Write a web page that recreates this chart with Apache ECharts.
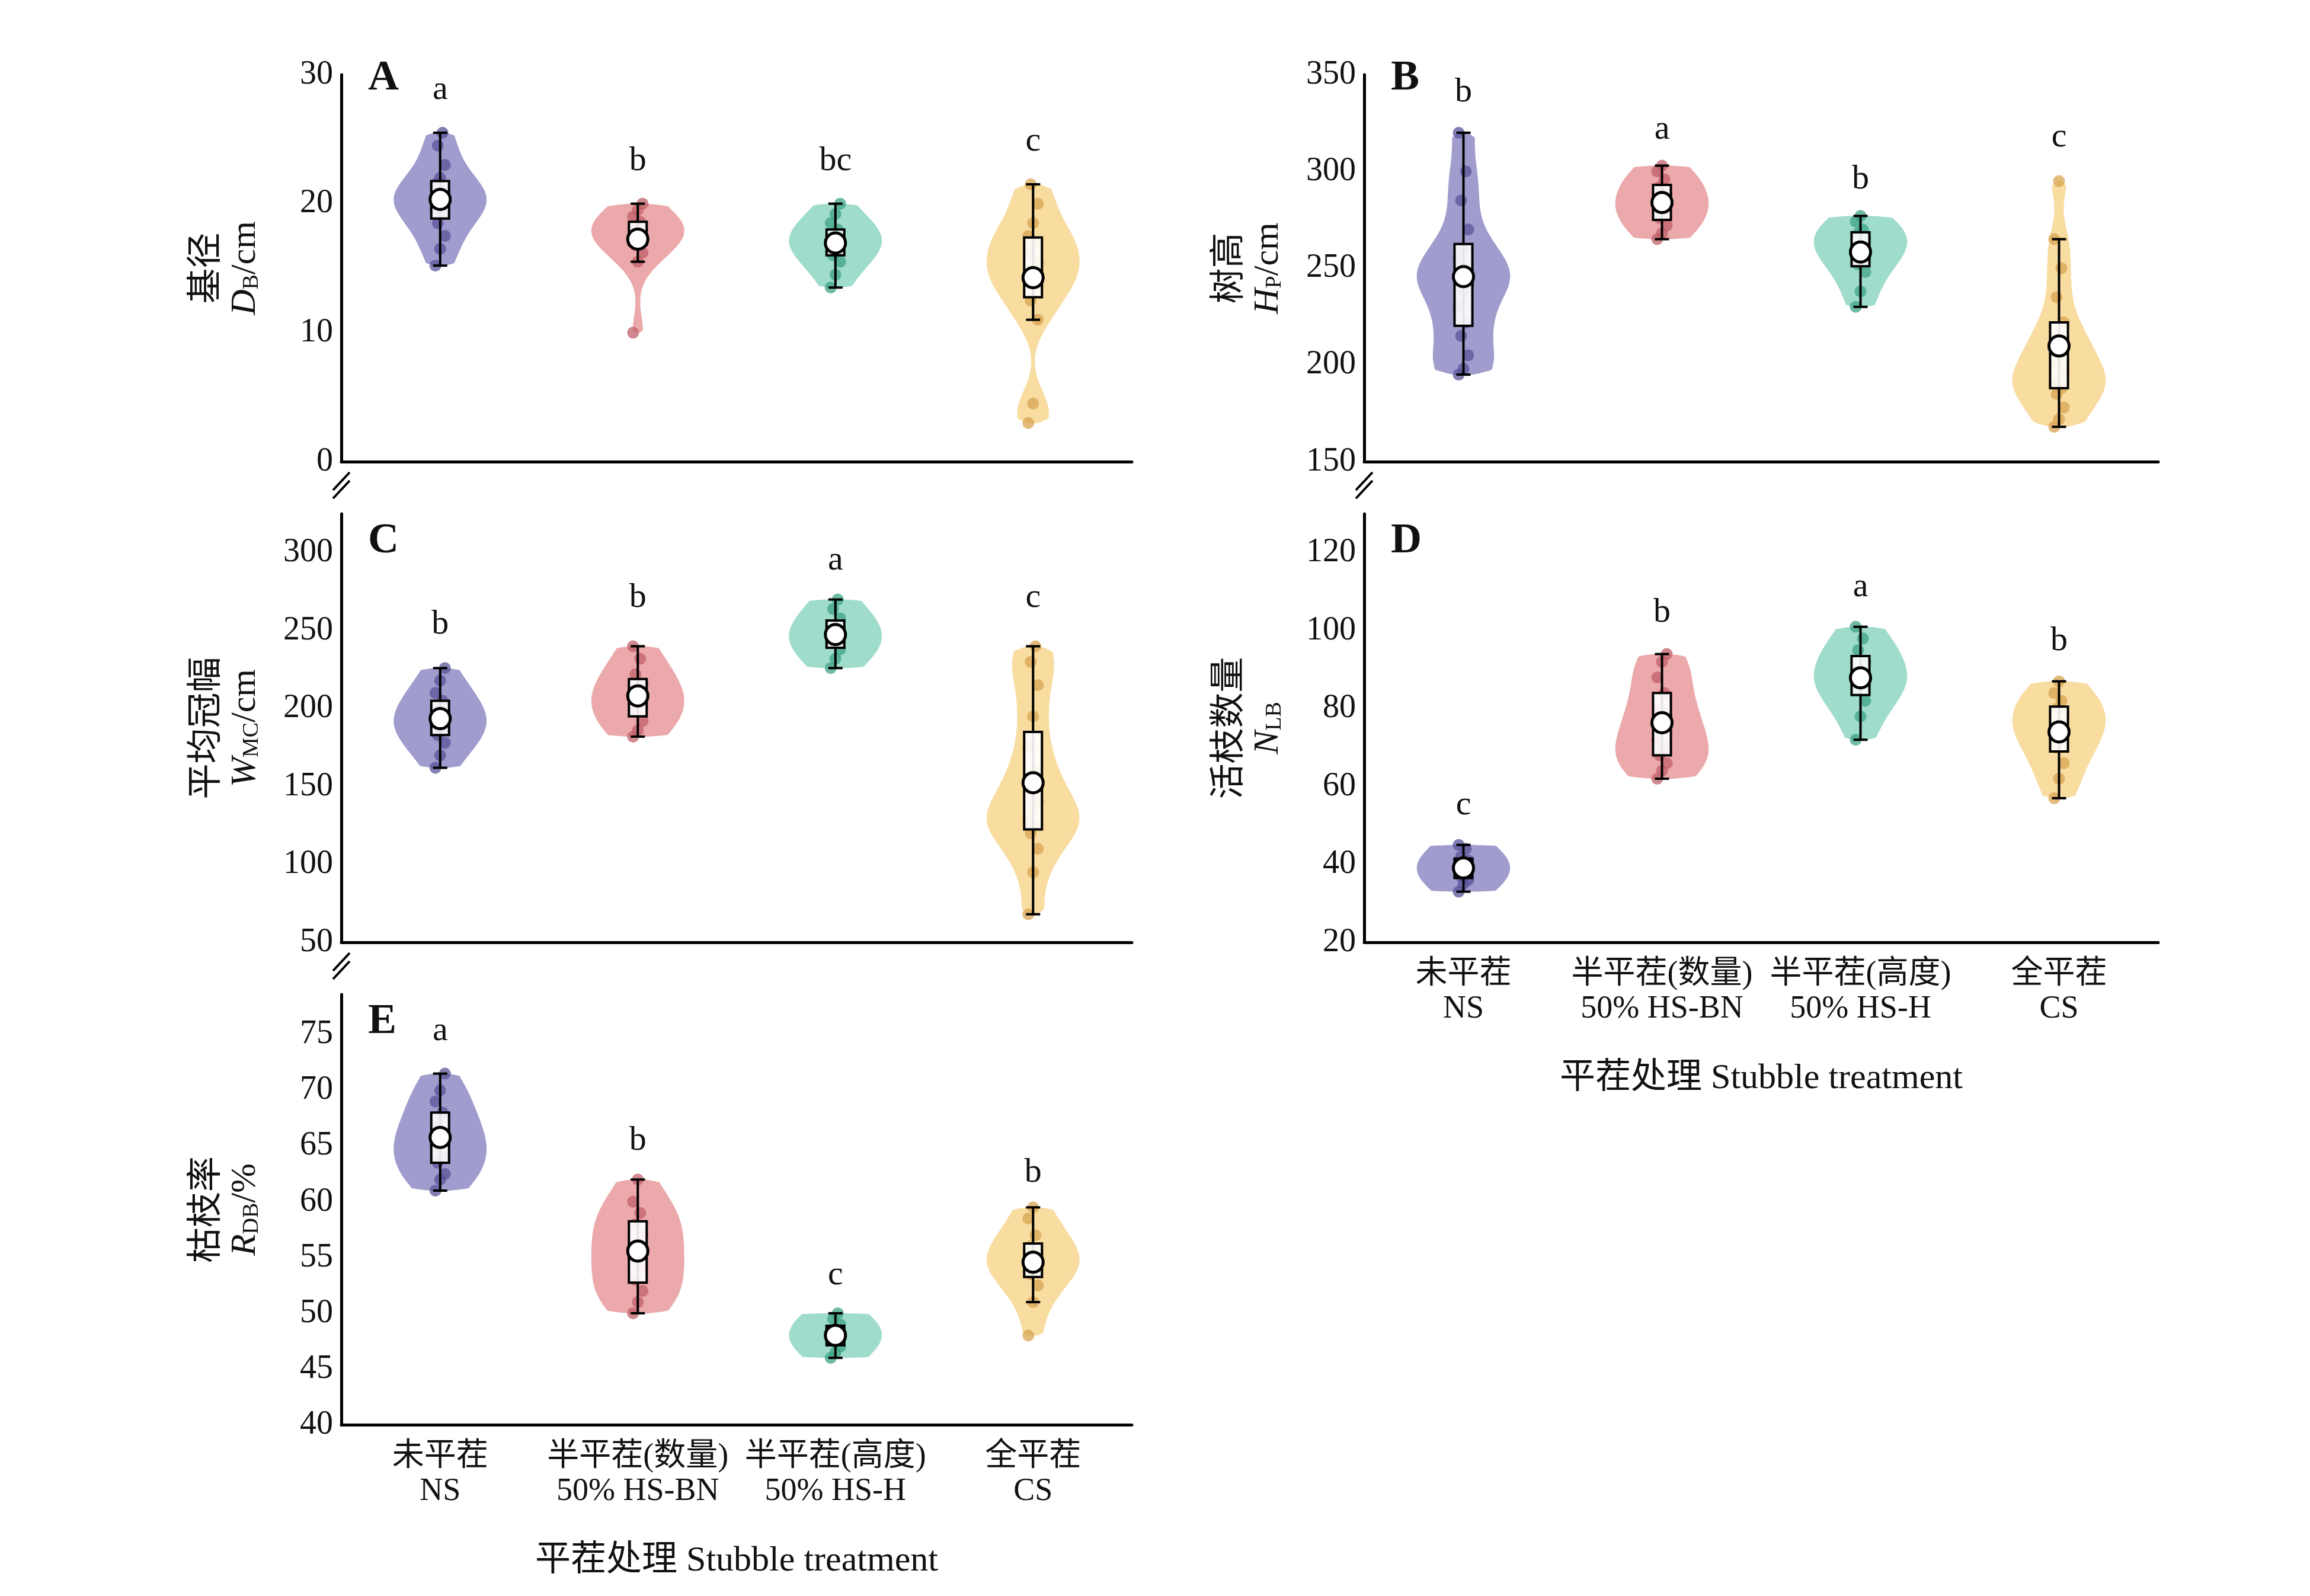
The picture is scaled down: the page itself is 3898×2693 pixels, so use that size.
<!DOCTYPE html>
<html>
<head>
<meta charset="utf-8">
<script src="https://cdn.jsdelivr.net/npm/echarts@6/dist/echarts.min.js"></script>
<style>html,body{margin:0;background:#fff}#main{width:3898px;height:2693px}</style>
</head>
<body>
<div id="main"></div>
<script>
// 分组
var groups = ['未平茬\nNS', '半平茬(数量)\n50% HS-BN', '半平茬(高度)\n50% HS-H', '全平茬\nCS'];
var fills = ['#8f8bc4', '#e79a9c', '#8ed6c2', '#f7d68f'];
var dots = ['#5b5499', '#c0606a', '#3fa487', '#d8a452'];

var dbNS = [15.2, 16.5, 17.5, 18.5, 19.2, 19.6, 20, 20.3, 20.6, 21, 21.5, 22, 23, 24.5, 25.5];
var dbBN = [10, 15.5, 16.2, 16.8, 17.2, 17.5, 17.7, 18, 18.3, 18.6, 19, 19.5, 20];
var dbH = [13.5, 14.5, 15.5, 16, 16.5, 16.8, 17, 17.3, 17.6, 18, 18.5, 19.2, 20];
var dbCS = [3, 4.5, 11, 12.5, 13.5, 14.2, 14.8, 15.5, 16.2, 17, 17.5, 18.5, 20, 21.5];

var hpNS = [195, 198, 205, 215, 222, 230, 238, 242, 245, 250, 255, 260, 270, 285, 300, 320];
var hpBN = [265, 268, 272, 276, 280, 282, 285, 288, 292, 296, 300, 303];
var hpH = [230, 238, 248, 252, 256, 260, 262, 265, 268, 270, 274, 277];
var hpCS = [168, 172, 178, 185, 188, 190, 192, 196, 200, 205, 210, 215, 222, 235, 250, 265, 295];

var wmNS = [162, 170, 178, 183, 187, 190, 192, 195, 200, 205, 210, 218, 226];
var wmBN = [182, 186, 192, 198, 203, 207, 212, 216, 222, 232, 240];
var wmH = [226, 232, 238, 242, 245, 248, 252, 258, 264, 270];
var wmCS = [68, 95, 110, 120, 125, 128, 135, 140, 150, 160, 175, 195, 215, 230, 240];

var nlNS = [33, 35, 36, 37, 38, 39, 40, 41, 42, 44, 45];
var nlBN = [62, 64, 66, 68, 70, 72, 75, 78, 80, 84, 88, 92, 94];
var nlH = [72, 78, 82, 85, 86, 88, 90, 92, 95, 98, 101];
var nlCS = [57, 62, 66, 70, 72, 74, 76, 78, 80, 82, 84, 87];

var rdNS = [61, 62, 62.5, 63.5, 64, 65, 65.5, 66, 67, 68, 69, 70, 71.5];
var rdBN = [50, 51, 52, 53, 54, 55, 56, 57, 58, 59, 60, 62];
var rdH = [46, 46.5, 47, 47.5, 48, 48.2, 48.5, 49, 49.5, 50];
var rdCS = [48, 51, 52.5, 53.5, 54, 54.5, 55, 55.5, 56, 57, 58.5, 59.5];

// 显著性字母及其纵向位置
var letA = ['a', 'b', 'bc', 'c'], letAy = [28.8, 23.3, 23.3, 24.8];
var letB = ['b', 'a', 'b', 'c'], letBy = [340.8, 321.5, 296, 317.7];
var letC = ['b', 'b', 'a', 'c'], letCy = [254, 271, 295, 271];
var letD = ['c', 'b', 'a', 'b'], letDy = [55.2, 104.7, 111.2, 97.4];
var letE = ['a', 'b', 'c', 'b'], letEy = [75.3, 65.5, 53.4, 62.6];

var panels = [
  {name: 'A', data: [dbNS, dbBN, dbH, dbCS], let: letA, lety: letAy, min: 0, max: 30, step: 10,
   title: '{c|基径}\n{i|D}{s|B}{n|/cm}', grid: [576, 126, 1334, 653], labels: false, brk: false},
  {name: 'B', data: [hpNS, hpBN, hpH, hpCS], let: letB, lety: letBy, min: 150, max: 350, step: 50,
   title: '{c|树高}\n{i|H}{s|P}{n|/cm}', grid: [2302, 126, 1340, 653], labels: false, brk: false},
  {name: 'C', data: [wmNS, wmBN, wmH, wmCS], let: letC, lety: letCy, min: 50, max: 325, step: 50,
   title: '{c|平均冠幅}\n{i|W}{s|MC}{n|/cm}', grid: [576, 867, 1334, 723], labels: false, brk: true},
  {name: 'D', data: [nlNS, nlBN, nlH, nlCS], let: letD, lety: letDy, min: 20, max: 130, step: 20,
   title: '{c|活枝数量}\n{i|N}{s|LB}', grid: [2302, 867, 1340, 723], labels: true, brk: true},
  {name: 'E', data: [rdNS, rdBN, rdH, rdCS], let: letE, lety: letEy, min: 40, max: 78.6, step: 5,
   title: '{c|枯枝率}\n{i|R}{s|DB}{n|/%}', grid: [576, 1678, 1334, 726], labels: true, brk: true}
];

var FONT = '"Liberation Serif", "Noto Sans CJK SC", serif';

function quant(a, p) {
  var s = a.slice().sort(function (x, y) { return x - y; });
  var h = (s.length - 1) * p, lo = Math.floor(h);
  return s[lo] + (s[Math.min(lo + 1, s.length - 1)] - s[lo]) * (h - lo);
}

var grids = [], xAxes = [], yAxes = [], series = [], graphics = [];

panels.forEach(function (p, k) {
  grids.push({left: p.grid[0], top: p.grid[1], width: p.grid[2], height: p.grid[3]});
  xAxes.push({
    gridIndex: k, type: 'category', data: groups,
    axisLine: {lineStyle: {color: '#000', width: 5}},
    axisTick: {alignWithLabel: true, interval: 0, length: 14, lineStyle: {color: '#000', width: 4}},
    axisLabel: {show: p.labels, interval: 0, color: '#111', fontSize: 54, fontFamily: FONT, lineHeight: 58, margin: 26},
    name: p.labels ? '平茬处理 Stubble treatment' : '', nameLocation: 'middle', nameGap: 200,
    nameTextStyle: {color: '#111', fontSize: 60, fontFamily: FONT}
  });
  yAxes.push({
    gridIndex: k, type: 'value', min: p.min, max: p.max, interval: p.step,
    splitLine: {show: false},
    axisLine: {show: true, lineStyle: {color: '#000', width: 5}},
    axisTick: {inside: true, length: 14, lineStyle: {color: '#000', width: 4}},
    axisLabel: {color: '#111', fontSize: 56, fontFamily: FONT, margin: 14,
      formatter: function (v) { return ((v - p.min) % p.step === 0) ? String(v) : ''; }},
    name: p.title, nameLocation: 'middle', nameGap: 130, nameRotate: 90,
    nameTextStyle: {
      fontFamily: FONT, color: '#111', lineHeight: 60,
      rich: {
        c: {fontSize: 60, fontFamily: FONT, lineHeight: 64},
        i: {fontSize: 60, fontStyle: 'italic', fontFamily: FONT, lineHeight: 64},
        s: {fontSize: 38, fontFamily: FONT, padding: [22, 0, 0, 0]},
        n: {fontSize: 60, fontFamily: FONT, lineHeight: 64}
      }
    }
  });

  var bw = (p.max - p.min) * 0.05;
  var idx = [0, 1, 2, 3];

  // 小提琴
  series.push({
    type: 'custom', xAxisIndex: k, yAxisIndex: k, data: idx, z: 1,
    renderItem: function (params, api) {
      var g = params.dataIndex, vals = p.data[g];
      var lo = Math.min.apply(null, vals), hi = Math.max.apply(null, vals);
      var band = api.size([1, 0])[0];
      var n = 50, ys = [], ds = [], dmax = 0;
      for (var i = 0; i <= n; i++) {
        var y = lo + (hi - lo) * i / n, d = 0;
        vals.forEach(function (v) { d += Math.exp(-0.5 * Math.pow((y - v) / bw, 2)); });
        ys.push(y); ds.push(d); dmax = Math.max(dmax, d);
      }
      var right = [], left = [];
      for (var j = 0; j <= n; j++) {
        var c = api.coord([g, ys[j]]);
        var w = ds[j] / dmax * band * 0.235;
        if (j === 0 || j === n) w *= 0.35;
        right.push([c[0] + w, c[1]]);
        left.unshift([c[0] - w, c[1]]);
      }
      return {type: 'polygon', shape: {points: right.concat(left), smooth: 0.2},
        style: {fill: fills[g], opacity: 0.85}};
    }
  });

  // 散点
  series.push({
    type: 'custom', xAxisIndex: k, yAxisIndex: k, data: idx, z: 2,
    renderItem: function (params, api) {
      var g = params.dataIndex, band = api.size([1, 0])[0];
      var kids = p.data[g].map(function (v, i) {
        var c = api.coord([g, v]);
        var off = ((i * 7) % 5 - 2) * band * 0.012;
        return {type: 'circle', shape: {cx: c[0] + off, cy: c[1], r: 10},
          style: {fill: dots[g], opacity: 0.75}};
      });
      return {type: 'group', children: kids};
    }
  });

  // 箱线 (须为 1.5 IQR 内的极值)
  series.push({
    type: 'custom', xAxisIndex: k, yAxisIndex: k, data: idx, z: 3,
    renderItem: function (params, api) {
      var g = params.dataIndex, vals = p.data[g];
      var band = api.size([1, 0])[0], hw = band * 0.045;
      var q1 = quant(vals, 0.25), q3 = quant(vals, 0.75), iqr = q3 - q1;
      var inR = vals.filter(function (v) { return v >= q1 - 1.5 * iqr && v <= q3 + 1.5 * iqr; });
      var mn = vals.reduce(function (a, b) { return a + b; }, 0) / vals.length;
      var lo = api.coord([g, Math.min.apply(null, inR)]), hi = api.coord([g, Math.max.apply(null, inR)]);
      var a = api.coord([g, q3]), b = api.coord([g, q1]), m = api.coord([g, mn]);
      var ln = {stroke: '#000', lineWidth: 4};
      return {type: 'group', children: [
        {type: 'line', shape: {x1: lo[0], y1: lo[1], x2: hi[0], y2: hi[1]}, style: ln},
        {type: 'line', shape: {x1: hi[0] - 12, y1: hi[1], x2: hi[0] + 12, y2: hi[1]}, style: ln},
        {type: 'line', shape: {x1: lo[0] - 12, y1: lo[1], x2: lo[0] + 12, y2: lo[1]}, style: ln},
        {type: 'rect', shape: {x: a[0] - hw, y: a[1], width: hw * 2, height: b[1] - a[1]},
          style: {fill: 'rgba(255,255,255,0.9)', stroke: '#000', lineWidth: 4}},
        {type: 'circle', shape: {cx: m[0], cy: m[1], r: 17}, style: {fill: '#fff', stroke: '#000', lineWidth: 5}}
      ]};
    }
  });

  // 字母
  series.push({
    type: 'custom', xAxisIndex: k, yAxisIndex: k, data: idx, z: 4,
    renderItem: function (params, api) {
      var g = params.dataIndex, c = api.coord([g, p.lety[g]]);
      return {type: 'text', x: c[0], y: c[1],
        style: {text: p.let[g], fontSize: 58, fontFamily: FONT, fill: '#111', align: 'center', verticalAlign: 'middle'}};
    }
  });

  graphics.push({type: 'text', left: p.grid[0] + 45, top: p.grid[1] - 30 + (p.brk ? 40 : 0),
    style: {text: p.name, fontSize: 72, fontWeight: 'bold', fontFamily: FONT, fill: '#111'}});
  if (p.brk) {
    [0, 14].forEach(function (d) {
      graphics.push({type: 'line', shape: {x1: p.grid[0] - 14, y1: p.grid[1] - 40 + d, x2: p.grid[0] + 14, y2: p.grid[1] - 70 + d},
        style: {stroke: '#000', lineWidth: 4}});
    });
  }
});

var chart = echarts.init(document.getElementById('main'));
chart.setOption({
  backgroundColor: '#fff', animation: false,
  grid: grids, xAxis: xAxes, yAxis: yAxes, series: series, graphic: graphics
});
</script>
</body>
</html>
